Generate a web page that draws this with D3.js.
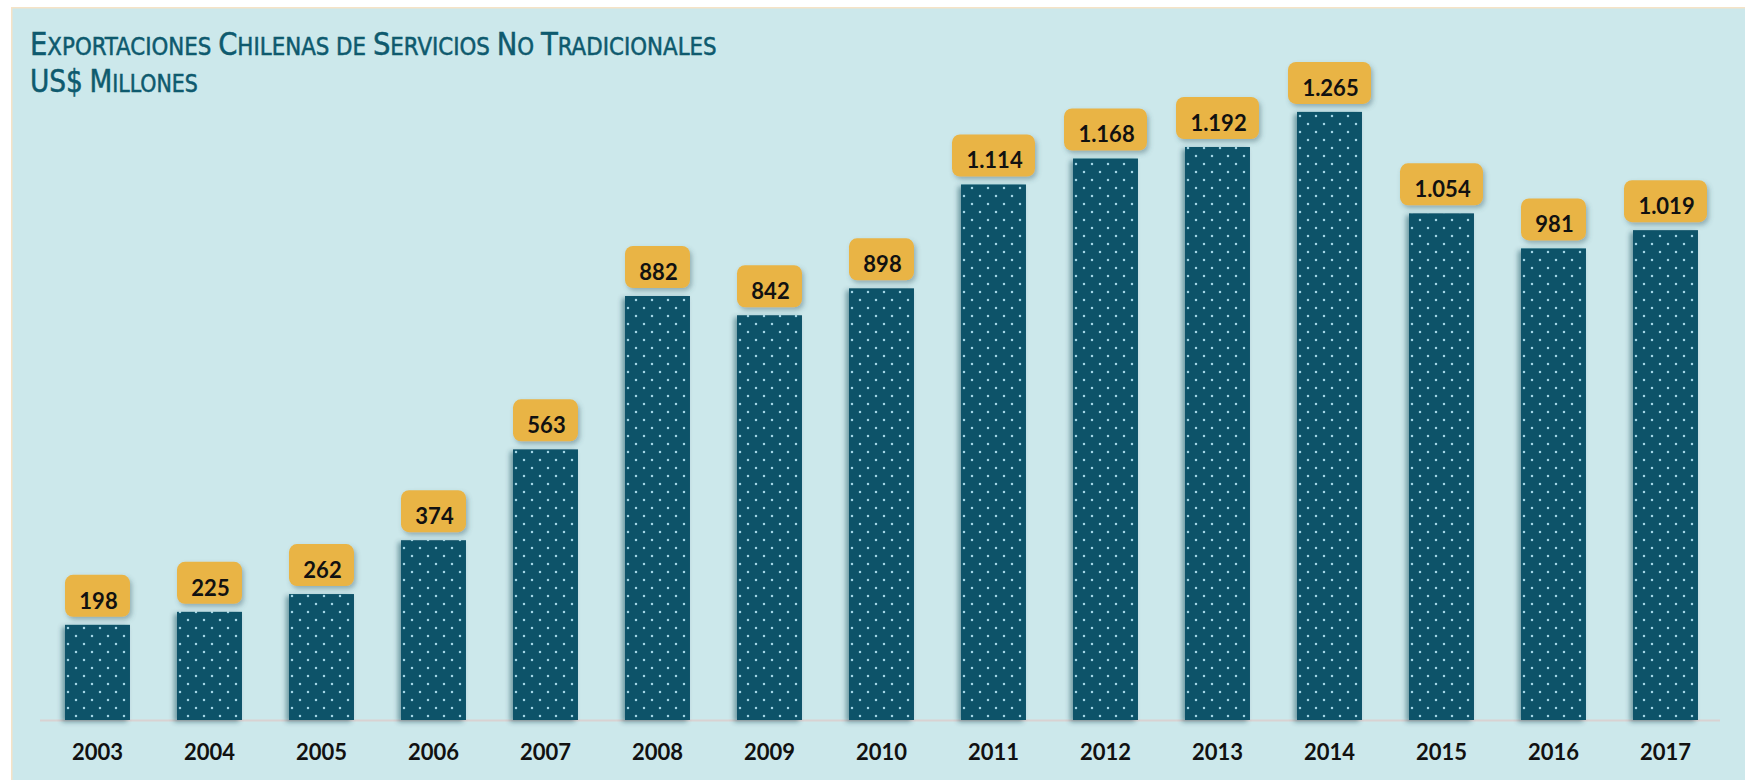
<!DOCTYPE html>
<html><head><meta charset="utf-8">
<script src="https://cdn.jsdelivr.net/npm/d3@7"></script>
<style>html,body{margin:0;padding:0;background:#fff;}svg{display:block;}</style>
</head><body>
<svg id="chart" width="1745" height="780"></svg>
<script>
const years = ["2003","2004","2005","2006","2007","2008","2009","2010","2011","2012","2013","2014","2015","2016","2017"];
const values = [198,225,262,374,563,882,842,898,1114,1168,1192,1265,1054,981,1019];
const titleLine1 = "Exportaciones Chilenas de Servicios No Tradicionales";
const titleLine2 = "US$ Millones";

const svg = d3.select("#chart");
const W = 1745, H = 780;
const locale = d3.formatLocale({decimal: ",", thousands: ".", grouping: [3], currency: ["$",""]});
const fmt = locale.format(",d");

const defs = svg.append("defs");
const pat = defs.append("pattern").attr("id","dots").attr("patternUnits","userSpaceOnUse")
  .attr("width",16).attr("height",16).attr("x",0).attr("y",0);
pat.append("rect").attr("width",16).attr("height",16).attr("fill","#0b5269");
pat.append("circle").attr("cx",4).attr("cy",4).attr("r",1.25).attr("fill","#a3d6e6");
pat.append("circle").attr("cx",12).attr("cy",12).attr("r",1.25).attr("fill","#a3d6e6");

const fBar = defs.append("filter").attr("id","barShadow").attr("x","-30%").attr("y","-10%").attr("width","160%").attr("height","120%");
fBar.append("feDropShadow").attr("dx",-3).attr("dy",2).attr("stdDeviation",2.5).attr("flood-color","#0a3a48").attr("flood-opacity",0.45);
const fBox = defs.append("filter").attr("id","boxShadow").attr("x","-20%").attr("y","-20%").attr("width","150%").attr("height","160%");
fBox.append("feDropShadow").attr("dx",2).attr("dy",3).attr("stdDeviation",2.5).attr("flood-color","#3a5a60").attr("flood-opacity",0.4);

// panel
svg.append("rect").attr("x",0).attr("y",0).attr("width",W).attr("height",H).attr("fill","#ffffff");
svg.append("rect").attr("x",11).attr("y",7).attr("width",W-11).attr("height",H-7).attr("fill","#f6e3c6");
svg.append("rect").attr("x",12.5).attr("y",8.5).attr("width",W-12.5).attr("height",H-8.5).attr("fill","#cce8eb");

// title (small caps, condensed by horizontal scaling)
function smallCapsLine(str, xPos, yPos, targetW) {
  const g = svg.append("g");
  const t = g.append("text").attr("x",0).attr("y",0).attr("fill","#0e5a6e")
    .attr("stroke","#0e5a6e").attr("stroke-width",0.5)
    .attr("font-family","'DejaVu Sans Condensed','Liberation Sans',sans-serif");
  const runs = [];
  for (const ch of str) {
    const big = ch !== ch.toLowerCase() || /[$0-9]/.test(ch);
    const size = ch === " " ? "s" : (big ? "b" : "s");
    if (runs.length && runs[runs.length-1].size === size) runs[runs.length-1].txt += ch;
    else runs.push({size, txt: ch});
  }
  runs.forEach(r => t.append("tspan").attr("font-size", r.size === "b" ? 31.5 : 24.5).text(r.txt.toUpperCase()));
  const w = t.node().getComputedTextLength();
  g.attr("transform", `translate(${xPos},${yPos}) scale(${targetW / w},1)`);
}
smallCapsLine(titleLine1, 30, 55, 687);
smallCapsLine(titleLine2, 30, 92, 168);

// scales
const x = d3.scaleBand().domain(years).range([41.5, 1721.5]).paddingInner(0.42).paddingOuter(0.21);
const y = d3.scaleLinear().domain([0, 1400]).range([720, 47]);

// axis line
svg.append("line").attr("x1",40).attr("x2",1720).attr("y1",y(0)+0.5).attr("y2",y(0)+0.5)
  .attr("stroke","#d9d2d2").attr("stroke-width",2);

// bars
svg.append("g").selectAll("rect").data(values).join("rect")
  .attr("x",(d,i)=>x(years[i])).attr("y",d=>y(d))
  .attr("width",x.bandwidth()).attr("height",d=>y(0)-y(d))
  .attr("fill","url(#dots)").attr("filter","url(#barShadow)");

// x axis labels
const xAxis = d3.axisBottom(x).tickSize(0).tickPadding(0);
const gx = svg.append("g").attr("transform",`translate(0,${y(0)})`).call(xAxis);
gx.select(".domain").remove();
gx.selectAll("text").attr("font-family","Lato, 'Open Sans', sans-serif").attr("font-weight",700)
  .attr("font-size",22).attr("fill","#111").attr("dy",null).attr("y",40);

// value labels
const lg = svg.append("g").selectAll("g").data(values).join("g")
  .attr("transform",(d,i)=>`translate(${x(years[i]) + x.bandwidth()/2},${y(d) - 8})`);
lg.append("text").attr("text-anchor","middle").attr("x",1).attr("y",-16)
  .attr("font-family","Lato, 'Open Sans', sans-serif").attr("font-weight",700)
  .attr("font-size",22).attr("fill","#111").attr("dy","0.36em").text(d=>fmt(d));
lg.each(function(){
  const g = d3.select(this);
  const tw = g.select("text").node().getComputedTextLength();
  const bw = Math.round(tw + 27);
  g.insert("rect","text").attr("x",-bw/2).attr("y",-42).attr("width",bw).attr("height",42)
    .attr("rx",8).attr("ry",8).attr("fill","#e9b444").attr("filter","url(#boxShadow)");
});
</script>
</body></html>
